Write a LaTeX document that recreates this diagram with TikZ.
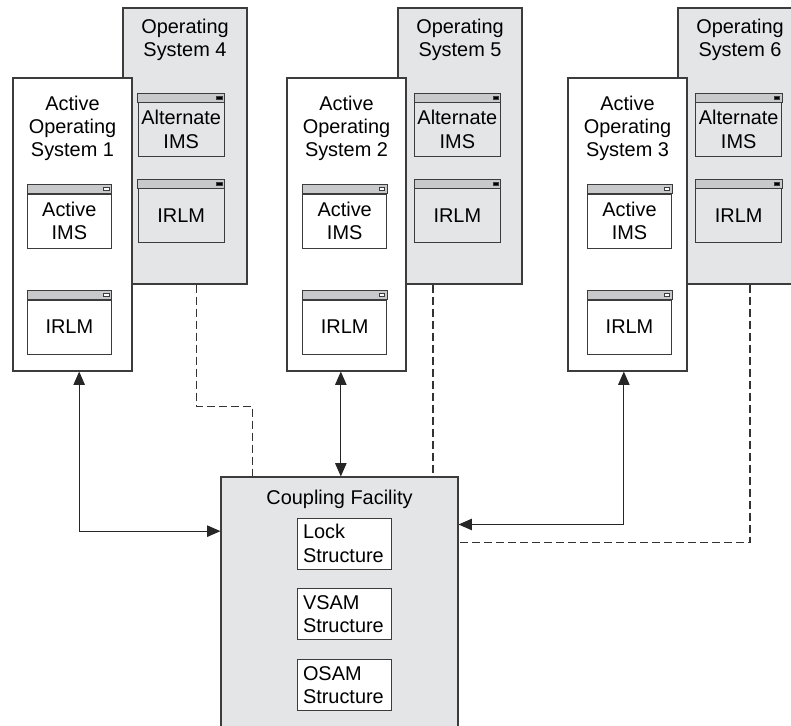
\documentclass[tikz,border=0pt]{standalone}
\usepackage{fontspec}
\setmainfont{Liberation Sans}
\usepackage{tikz}
\usetikzlibrary{arrows.meta,positioning,calc}
\definecolor{sysgray}{RGB}{228,229,231}
\definecolor{bargray}{RGB}{200,201,203}
\definecolor{edgegray}{RGB}{60,60,60}

\begin{document}
\begin{tikzpicture}[
    font=\fontsize{17}{19.9}\selectfont,
    sysbox/.style={draw=edgegray, line width=0.9pt, inner sep=0pt},
    ostitle/.style={align=center, inner sep=0pt},
    winbox/.style={draw=edgegray, line width=0.7pt, inner sep=0pt, align=center, minimum height=1.62cm},
    structbox/.style={draw=edgegray, line width=0.7pt, fill=white, align=left, text width=2.46cm, inner xsep=0.18cm, inner ysep=0pt, minimum height=1.53cm},
    link/.style={line width=1.1pt, draw=black!85, {Triangle[length=0.4cm, width=0.34cm]}-{Triangle[length=0.4cm, width=0.34cm]}},
    standby/.style={line width=1.0pt, draw=black!80, dash pattern=on 0.24cm off 0.12cm}
]
    \useasboundingbox (0,0) rectangle (23.73,-21.75);
    \clip (0,0) rectangle (23.73,-21.75);

    % Standby systems (behind the active ones)
    \node[sysbox, fill=sysgray, minimum width=3.72cm, minimum height=8.28cm] (os4) at (5.55,-4.38) {};
    \node[ostitle] (os4_t) at (5.55,-1.2) {Operating\\System 4};
    \node[winbox, fill=sysgray, minimum width=2.58cm] (alt4) at (5.435,-3.885) {Alternate\\IMS};
    \node[winbox, fill=sysgray, minimum width=2.58cm] (alt4_irlm) at (5.435,-6.465) {IRLM};

    \node[sysbox, fill=sysgray, minimum width=3.72cm, minimum height=8.28cm] (os5) at (13.8,-4.38) {};
    \node[ostitle] (os5_t) at (13.8,-1.2) {Operating\\System 5};
    \node[winbox, fill=sysgray, minimum width=2.58cm] (alt5) at (13.72,-3.885) {Alternate\\IMS};
    \node[winbox, fill=sysgray, minimum width=2.58cm] (alt5_irlm) at (13.72,-6.465) {IRLM};

    \node[sysbox, fill=sysgray, minimum width=3.72cm, minimum height=8.28cm] (os6) at (22.2,-4.38) {};
    \node[ostitle] (os6_t) at (22.2,-1.2) {Operating\\System 6};
    \node[winbox, fill=sysgray, minimum width=2.58cm] (alt6) at (22.16,-3.885) {Alternate\\IMS};
    \node[winbox, fill=sysgray, minimum width=2.58cm] (alt6_irlm) at (22.16,-6.465) {IRLM};

    \foreach \w in {alt4, alt4_irlm, alt5, alt5_irlm, alt6, alt6_irlm} {
        \filldraw[fill=bargray, draw=edgegray, line width=0.7pt] (\w.north west) rectangle ([yshift=0.27cm]\w.north east);
        \filldraw[fill=black, draw=edgegray, line width=0.4pt] ([xshift=-0.24cm, yshift=0.085cm]\w.north east) rectangle ++(0.16,0.1);
    }

    % Active systems
    \node[sysbox, fill=white, minimum width=3.57cm, minimum height=8.79cm] (os1) at (2.175,-6.735) {};
    \node[ostitle] (os1_t) at (2.175,-3.855) {Active\\Operating\\System 1};
    \node[winbox, fill=white, minimum width=2.52cm] (ims1) at (2.08,-6.63) {Active\\IMS};
    \node[winbox, fill=white, minimum width=2.52cm] (irlm1) at (2.08,-9.81) {IRLM};

    \node[sysbox, fill=white, minimum width=3.57cm, minimum height=8.79cm] (os2) at (10.395,-6.735) {};
    \node[ostitle] (os2_t) at (10.395,-3.855) {Active\\Operating\\System 2};
    \node[winbox, fill=white, minimum width=2.52cm] (ims2) at (10.34,-6.63) {Active\\IMS};
    \node[winbox, fill=white, minimum width=2.52cm] (irlm2) at (10.34,-9.81) {IRLM};

    \node[sysbox, fill=white, minimum width=3.57cm, minimum height=8.79cm] (os3) at (18.825,-6.735) {};
    \node[ostitle] (os3_t) at (18.825,-3.855) {Active\\Operating\\System 3};
    \node[winbox, fill=white, minimum width=2.52cm] (ims3) at (18.885,-6.63) {Active\\IMS};
    \node[winbox, fill=white, minimum width=2.52cm] (irlm3) at (18.885,-9.81) {IRLM};

    \foreach \w in {ims1, irlm1, ims2, irlm2, ims3, irlm3} {
        \filldraw[fill=bargray, draw=edgegray, line width=0.7pt] (\w.north west) rectangle ([yshift=0.27cm]\w.north east);
        \filldraw[fill=white, draw=edgegray, line width=0.6pt] ([xshift=-0.24cm, yshift=0.085cm]\w.north east) rectangle ++(0.16,0.1);
    }

    % Coupling Facility
    \node[sysbox, fill=sysgray, minimum width=7.11cm, minimum height=8.49cm] (cf) at (10.185,-18.555) {};
    \node[ostitle, below=0.4cm of cf.north] (cf_t) {Coupling Facility};
    \node[structbox] (lock) at (10.32,-16.305) {Lock\\Structure};
    \node[structbox, below=0.57cm of lock] (vsam) {VSAM\\Structure};
    \node[structbox, below=0.57cm of vsam] (osam) {OSAM\\Structure};

    % Links: active systems to Coupling Facility
    \coordinate (a2) at ([xshift=-0.17cm]os2.south);
    \draw[link] ([xshift=0.2cm]os1.south) |- ($(cf.north west)+(0,-1.64)$);
    \draw[link] (a2) -- (a2 |- cf.north);
    \draw[link] ([xshift=-0.11cm]os3.south) |- ($(cf.north east)+(0,-1.44)$);

    % Links: standby systems to Coupling Facility
    \coordinate (d5) at ([xshift=-0.81cm]os5.south);
    \draw[standby] ([xshift=0.35cm]os4.south) -- ++(0,-3.66) -| ([xshift=0.96cm]cf.north west);
    \draw[standby] (d5) -- (d5 |- cf.north);
    \draw[standby] ([xshift=0.3cm]os6.south) |- ($(cf.north east)+(0,-1.98)$);

\end{tikzpicture}
\end{document}
